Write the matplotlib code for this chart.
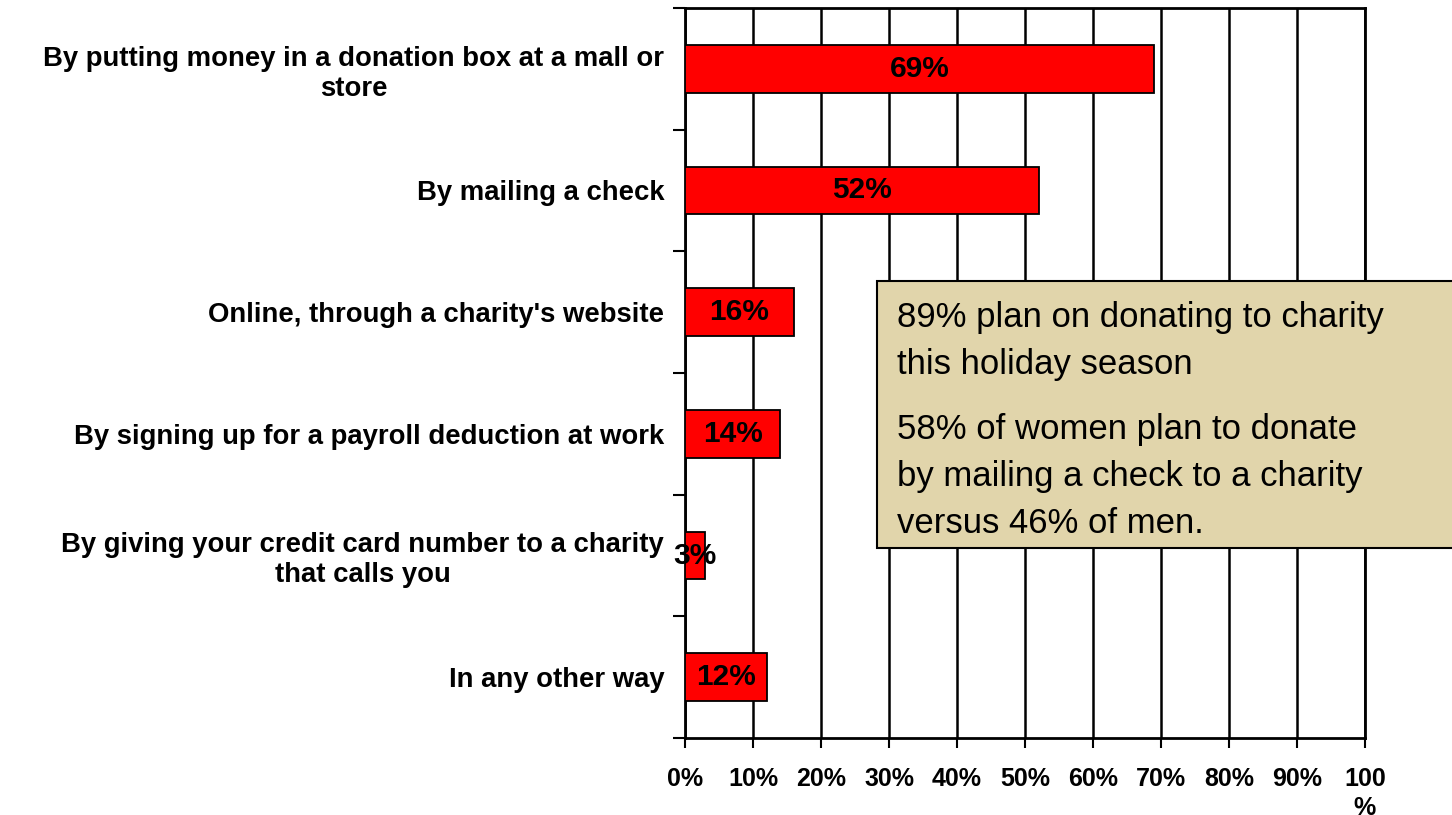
import matplotlib
matplotlib.use("Agg")
import matplotlib.pyplot as plt
from matplotlib.patches import Rectangle
import numpy as np

plt.rcParams['font.family'] = ['Liberation Sans', 'DejaVu Sans']

# data
categories = ["By putting money in a donation box at a mall or\nstore",
              "By mailing a check",
              "Online, through a charity's website",
              "By signing up for a payroll deduction at work",
              "By giving your credit card number to a charity\nthat calls you",
              "In any other way"]
values = [69, 52, 16, 14, 3, 12]
xtick_vals = [0, 10, 20, 30, 40, 50, 60, 70, 80, 90, 100]
xtick_labels = ["0%", "10%", "20%", "30%", "40%", "50%", "60%", "70%", "80%", "90%", "100\n%"]
note_lines = ["89% plan on donating to charity", "this holiday season",
              "58% of women plan to donate", "by mailing a check to a charity",
              "versus 46% of men."]
note_baselines = [327, 374, 439, 486, 533]   # pixel rows, from top

fig = plt.figure(figsize=(14.52, 8.15), dpi=100)
ax = fig.add_axes([685/1452, 1 - 738/815, 680/1452, 730/815])

ypos = np.arange(len(categories))
bars = ax.barh(ypos, values, height=0.39, color='#FF0000', edgecolor='black', linewidth=1.3, zorder=3)

for y, v in zip(ypos, values):
    ax.text(v / 2.0, y, "{}%".format(v), ha='center', va='center',
            fontsize=21.5, fontweight='bold', zorder=4)

ax.set_xlim(0, 100)
ax.set_ylim(len(categories) - 0.5, -0.5)

ax.set_xticks(xtick_vals)
ax.set_xticklabels(xtick_labels, fontsize=18, fontweight='bold', linespacing=1.25, va='top')
ax.tick_params(axis='x', length=7, width=1.5, pad=14)

# y: tick marks on category boundaries, labels at centres
ax.set_yticks(np.arange(-0.5, len(categories), 1.0))
ax.set_yticklabels([])
ax.tick_params(axis='y', which='major', length=9, width=1.5)
ax.set_yticks(ypos, minor=True)
ax.set_yticklabels(categories, minor=True, fontsize=19.8, fontweight='bold',
                   multialignment='center', linespacing=1.2)
ax.tick_params(axis='y', which='minor', length=0, pad=15)

ax.xaxis.grid(True, color='black', linewidth=1.8, zorder=0)
ax.set_axisbelow(True)
for s in ax.spines.values():
    s.set_linewidth(2)

# note box
fig.patches.append(Rectangle((877/1452, 1 - 548/815), 600/1452, 267/815,
                             transform=fig.transFigure, facecolor='#E1D5AB',
                             edgecolor='black', linewidth=1.5, zorder=5))
for line, yb in zip(note_lines, note_baselines):
    fig.text(897/1452, 1 - yb/815, line, fontsize=25, va='baseline', ha='left', zorder=6)

fig.savefig("out.png", dpi=100)
